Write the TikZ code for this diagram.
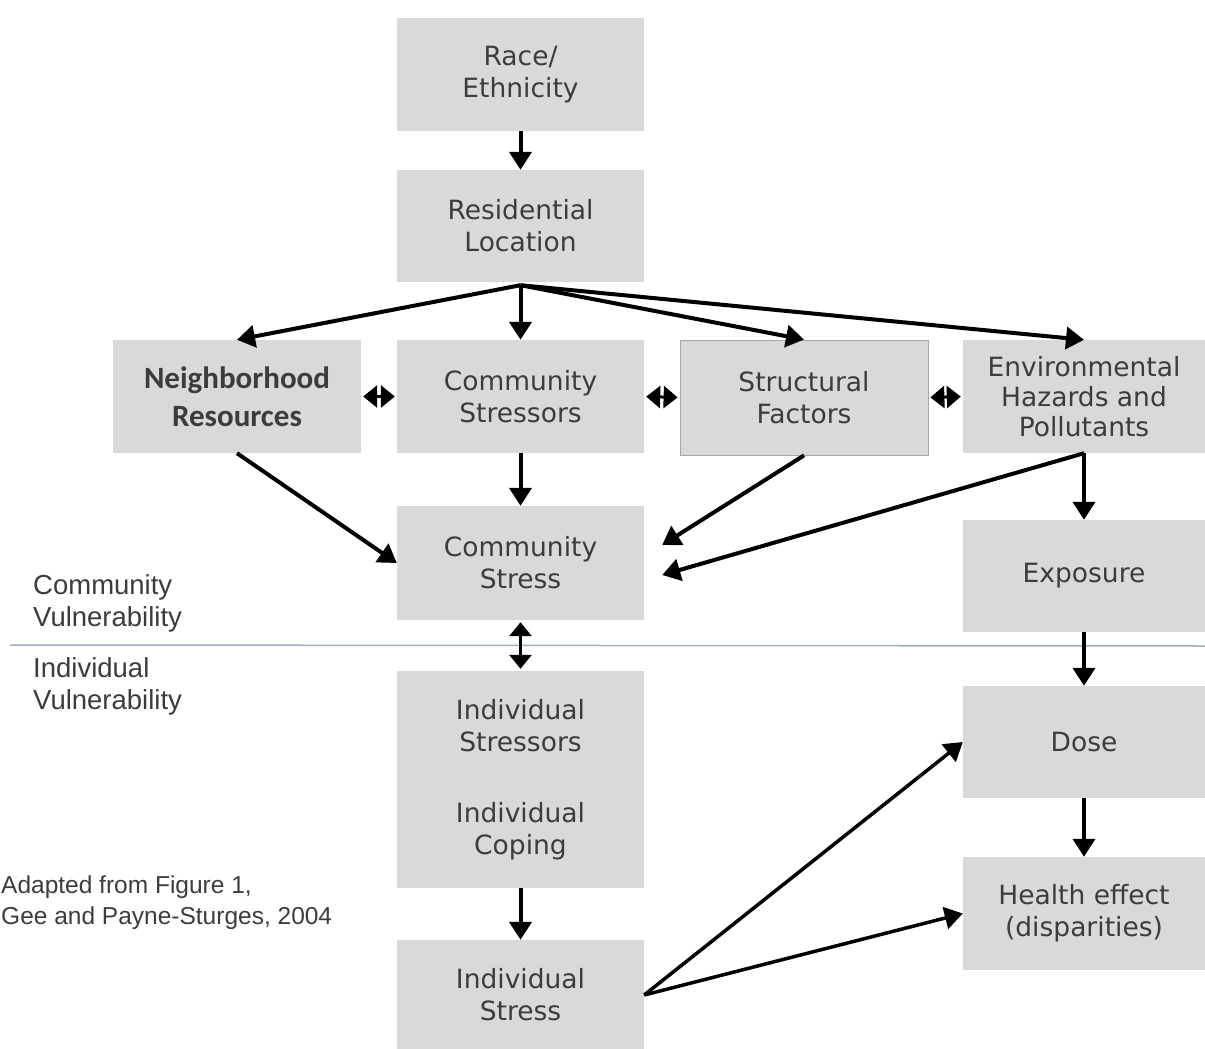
\documentclass[tikz,border=0pt]{standalone}
\usepackage{fontspec}
\setmainfont{DejaVu Sans}
\newfontfamily\boldfam{Carlito}
\newfontfamily\arialfam{Liberation Sans}
\usetikzlibrary{arrows.meta}
\definecolor{boxgray}{HTML}{D9D9D9}
\definecolor{txtgray}{HTML}{3C3C3C}
\definecolor{linecol}{HTML}{9AAFC4}
\tikzset{
  box/.style={rectangle, fill=boxgray, minimum width=247pt, minimum height=113pt, inner sep=0pt,
    align=center, text=txtgray, font=\fontsize{26.5}{32}\selectfont},
  arr/.style={line width=4pt, -{Triangle[length=18pt,width=22pt]}},
  dbl/.style={line width=3pt, {Triangle[length=14pt,width=22pt]}-{Triangle[length=14pt,width=22pt]}, shorten >=2pt, shorten <=2pt},
  side/.style={anchor=west, align=left, text=txtgray, inner sep=0pt, font=\arialfam\fontsize{27.5}{32}\selectfont},
}
\begin{document}
\begin{tikzpicture}[x=1pt,y=-1pt]
\useasboundingbox (0,0) rectangle (1205,1049);
\node[box] (race) at (520.5,74.5) {Race/\\Ethnicity};
\node[box, minimum height=112pt] (res) at (520.5,226) {Residential\\Location};
\node[box, minimum width=248pt, font=\boldfam\bfseries\fontsize{31}{38}\selectfont] (nbr) at (237,396.5) {Neighborhood\\Resources};
\node[box] (cst) at (520.5,396.5) {Community\\Stressors};
\node[box, minimum width=248pt, minimum height=115pt, draw=gray!70, line width=0.8pt] (str) at (804,397.5) {Structural\\Factors};
\node[box, minimum width=242pt, font=\fontsize{26.5}{30}\selectfont] (env) at (1084,396.5) {Environmental\\Hazards and\\Pollutants};
\node[box, minimum height=114pt] (cstress) at (520.5,563) {Community\\Stress};
\node[box, minimum width=242pt, minimum height=112pt] (expo) at (1084,576) {Exposure};
\node[box, minimum height=217pt] (ind) at (520.5,779.5) {Individual\\Stressors\\[39pt]Individual\\Coping};
\node[box, minimum height=110pt] (istress) at (520.5,995) {Individual\\Stress};
\node[box, minimum width=242pt, minimum height=112pt] (dose) at (1084,742) {Dose};
\node[box, minimum width=242pt] (health) at (1084,913.5) {Health effect\\(disparities)};

\node[side] (comv) at (33,603) {Community\\Vulnerability};
\node[side] (indv) at (33,686) {Individual\\Vulnerability};
\node[side, font=\arialfam\fontsize{24.5}{31}\selectfont] (adapt) at (1,903) {Adapted from Figure 1,\\Gee and Payne-Sturges, 2004};

\coordinate (ll) at (10,645);
\coordinate (lr) at (1205,646);
\draw[linecol, line width=1.5pt] (ll) -- (lr);

\draw[arr] (race.south) -- (res.north);
\coordinate (fan) at ([yshift=-3pt]res.south);
\draw[arr] (fan) -- (nbr.north);
\draw[arr] (fan) -- (cst.north);
\draw[arr] (fan) -- (str.north);
\draw[arr] (fan) -- (env.north);
\draw[dbl] (nbr.east) -- (cst.west);
\draw[dbl] (cst.east) -- (str.west);
\draw[dbl] (str.east) -- (env.west);
\draw[arr] (cst.south) -- (cstress.north);
\draw[arr] (nbr.south) -- (cstress.west);
\draw[arr] (str.south) -- ([xshift=18pt,yshift=18pt]cstress.east);
\draw[arr] (env.south) -- ([xshift=18pt,yshift=-12pt]cstress.east);
\draw[arr] (env.south) -- (expo.north);
\draw[dbl] (cstress.south) -- (ind.north);
\draw[arr] (expo.south) -- (dose.north);
\draw[arr] (dose.south) -- (health.north);
\draw[arr] (ind.south) -- (istress.north);
\draw[arr, line width=3.5pt] (istress.east) -- (dose.west);
\draw[arr, line width=3.5pt] (istress.east) -- (health.west);
\end{tikzpicture}
\end{document}
